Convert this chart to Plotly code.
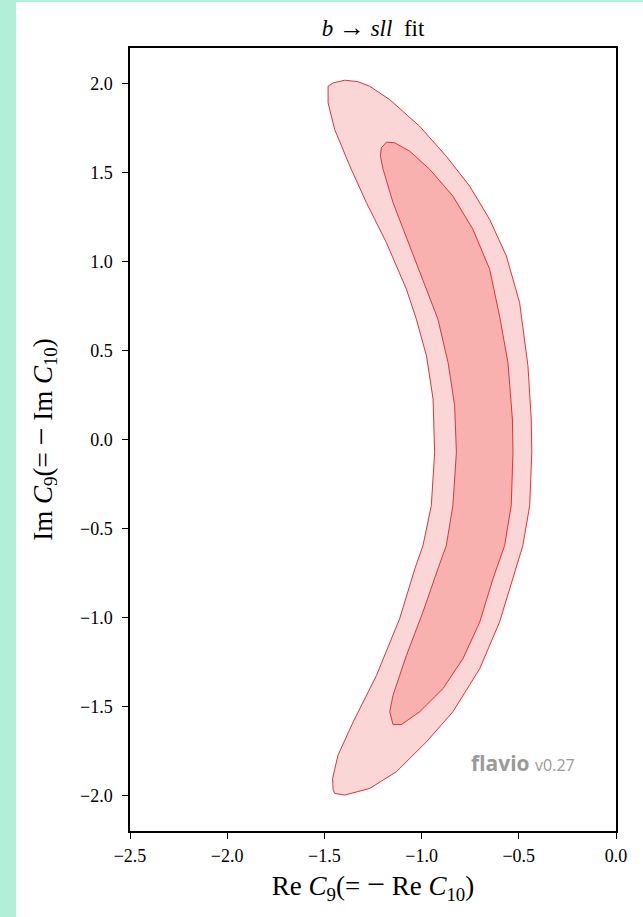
import plotly.graph_objects as go

# ---- data (in data units) ----
outer_re = [-1.481, -1.455, -1.395, -1.328, -1.267, -1.164, -1.010, -0.873, -0.753, -0.650,
            -0.564, -0.496, -0.453, -0.436, -0.433, -0.444, -0.479, -0.530, -0.599, -0.701,
            -0.839, -0.975, -1.130, -1.267, -1.395, -1.447, -1.455, -1.458, -1.430, -1.352,
            -1.232, -1.113, -1.035, -0.993, -0.950, -0.933, -0.941, -0.975, -1.027, -1.078,
            -1.181, -1.284, -1.369, -1.447, -1.481, -1.481]
outer_im = [1.985, 2.004, 2.019, 2.011, 1.985, 1.910, 1.760, 1.592, 1.424, 1.237,
            1.031, 0.770, 0.414, 0.115, -0.070, -0.371, -0.596, -0.783, -1.026, -1.288,
            -1.530, -1.699, -1.867, -1.961, -1.998, -1.989, -1.970, -1.905, -1.774, -1.587,
            -1.325, -1.007, -0.727, -0.596, -0.371, -0.072, 0.227, 0.470, 0.676, 0.844,
            1.106, 1.331, 1.536, 1.742, 1.892, 1.985]

inner_re = [-1.212, -1.207, -1.181, -1.138, -1.061, -0.958, -0.839, -0.736, -0.650, -0.599,
            -0.556, -0.533, -0.530, -0.539, -0.573, -0.633, -0.701, -0.787, -0.890, -1.010,
            -1.104, -1.147, -1.164, -1.147, -1.078, -0.993, -0.916, -0.873, -0.839, -0.821,
            -0.830, -0.864, -0.916, -0.975, -1.061, -1.147, -1.198, -1.212]
inner_im = [1.592, 1.639, 1.671, 1.667, 1.620, 1.518, 1.368, 1.181, 0.957, 0.694,
            0.433, 0.115, -0.072, -0.371, -0.596, -0.783, -1.026, -1.231, -1.400, -1.530,
            -1.602, -1.602, -1.530, -1.437, -1.213, -0.969, -0.727, -0.596, -0.371, -0.072,
            0.190, 0.433, 0.676, 0.844, 1.087, 1.331, 1.518, 1.592]

x_ticks = [-2.5, -2.0, -1.5, -1.0, -0.5, 0.0]
y_ticks = [-2.0, -1.5, -1.0, -0.5, 0.0, 0.5, 1.0, 1.5, 2.0]

title_text = "<i>b</i> <span style='font-size:26px'>→</span> <i>sll</i> &nbsp;fit"
x_title = "Re&nbsp;<i>C</i><sub>9</sub>(=&nbsp;<span style='font-size:32px'>−</span>&nbsp;Re&nbsp;<i>C</i><sub>10</sub>)"
y_title = "Im&nbsp;<i>C</i><sub>9</sub>(=&nbsp;<span style='font-size:32px'>−</span>&nbsp;Im&nbsp;<i>C</i><sub>10</sub>)"

LINE = "#d8363a"
MINT = "#b3efd8"

fig = go.Figure()
fig.add_trace(go.Scatter(x=outer_re, y=outer_im, mode="lines", fill="toself",
                         fillcolor="#fbd6d6", line=dict(color=LINE, width=1),
                         hoverinfo="skip", showlegend=False))
fig.add_trace(go.Scatter(x=inner_re, y=inner_im, mode="lines", fill="toself",
                         fillcolor="#f8b1ae", line=dict(color=LINE, width=1),
                         hoverinfo="skip", showlegend=False))

W, H = 643, 917
L, R, T, B = 130, 27, 48, 86
pw, ph = W - L - R, H - T - B

def px2paper_x(px):
    return (px - L) / pw

def py2paper_y(py):
    return (H - B - py) / ph

serif = "Liberation Serif"
tickf = dict(size=18, family=serif, color="black")

fig.update_layout(
    width=W, height=H,
    margin=dict(l=L, r=R, t=T, b=B),
    paper_bgcolor="white", plot_bgcolor="white",
    font=dict(family=serif, color="black", size=16),
    title=dict(text=title_text, x=0.5, xref="paper", y=1 - 28 / H, yref="container",
               xanchor="center", yanchor="middle",
               font=dict(size=23, family=serif, color="black")),
    xaxis=dict(range=[-2.5, 0.0], tickvals=x_ticks, tickformat=".1f",
               showgrid=False, zeroline=False, showline=True, linecolor="black",
               linewidth=1.5, mirror=True, ticks="outside", ticklen=6, tickwidth=1.2,
               tickcolor="black", tickfont=tickf, ticklabelstandoff=2,
               title=dict(text=x_title, font=dict(size=27, family=serif, color="black"),
                          standoff=2)),
    yaxis=dict(range=[-2.2, 2.2], tickvals=y_ticks, tickformat=".1f",
               showgrid=False, zeroline=False, showline=True, linecolor="black",
               linewidth=1.5, mirror=True, ticks="outside", ticklen=6, tickwidth=1.2,
               tickcolor="black", tickfont=tickf, ticklabelstandoff=6,
               title=dict(text=y_title, font=dict(size=27, family=serif, color="black"),
                          standoff=20)),
    shapes=[
        dict(type="rect", xref="paper", yref="paper", layer="below",
             x0=px2paper_x(0), x1=px2paper_x(16), y0=py2paper_y(H), y1=py2paper_y(0),
             fillcolor=MINT, line=dict(width=0)),
        dict(type="rect", xref="paper", yref="paper", layer="below",
             x0=px2paper_x(0), x1=px2paper_x(W), y0=py2paper_y(2), y1=py2paper_y(0),
             fillcolor=MINT, line=dict(width=0)),
    ],
    annotations=[
        dict(text="<b>flavio</b> <span style='font-size:16px'>v0.27</span>",
             xref="paper", yref="paper", x=px2paper_x(577), y=py2paper_y(763),
             xanchor="right", yanchor="middle", showarrow=False,
             font=dict(family="Open Sans", size=21, color="#9a9a9a")),
    ],
)

fig.write_html("out.html", config={"displayModeBar": False},
               post_script="document.body.style.margin='0';document.body.style.overflow='hidden';")
